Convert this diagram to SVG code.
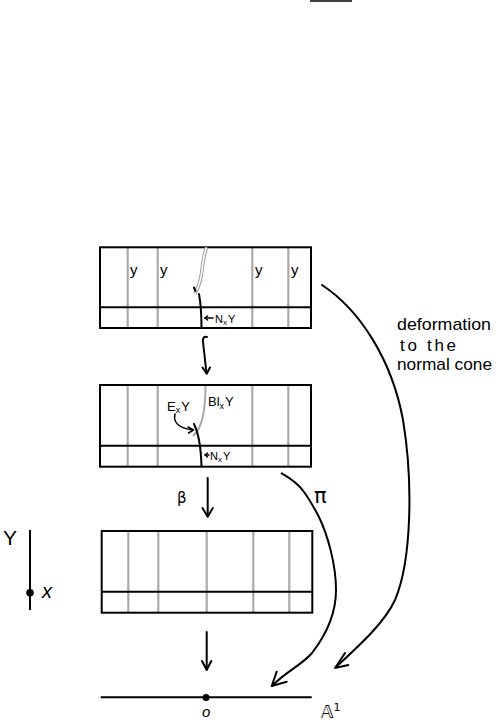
<svg xmlns="http://www.w3.org/2000/svg" width="501" height="728" viewBox="0 0 501 728">
<style>
.box{fill:none;stroke:#000;stroke-width:2}
.gl{stroke:#aaa;stroke-width:2.2;fill:none}
.bk{stroke:#000;stroke-width:2;fill:none;stroke-linecap:round;stroke-linejoin:round}
.thin{stroke:#000;stroke-width:1.5;fill:none;stroke-linecap:round;stroke-linejoin:round}
.t{font-family:"Liberation Sans",Arial,sans-serif;fill:#000}
</style>
<rect width="501" height="728" fill="#fff"/>
<line x1="310" y1="1" x2="352" y2="1" stroke="#000" stroke-width="1.5"/>

<g id="top-box">
  <path class="gl" d="M127.7,247 V328 M157.7,247 V328 M252.3,247 V328 M288.3,247 V328"/>
  <rect class="box" x="100" y="247.3" width="211" height="80.7"/>
  <line class="box" x1="100" y1="307.3" x2="311" y2="307.3"/>
  <path d="M195,294 C198,288 201,280 202,270 C203,260 205,252 206.5,247.5" stroke="#999" stroke-width="3.5" fill="none"/>
  <path d="M195,294 C198,288 201,280 202,270 C203,260 205,252 206.5,247.5" stroke="#fff" stroke-width="1.6" fill="none"/>
  <path class="bk" d="M194,287.5 L195.5,291"/>
  <path class="bk" d="M199,294 C201,305 201.5,318 201.5,328"/>
  <text class="t" x="130" y="275" font-size="15">y</text>
  <text class="t" x="160" y="275" font-size="15">y</text>
  <text class="t" x="255" y="275" font-size="15">y</text>
  <text class="t" x="291" y="275" font-size="15">y</text>
  <text class="t" x="215" y="323" font-size="11">N<tspan font-size="8" dy="2">x</tspan><tspan dy="-2" dx="1">Y</tspan></text>
</g>

<g id="middle-box">
  <path class="gl" d="M127.7,385 V466.7 M157.7,385 V466.7 M252.3,385 V466.7 M288.3,385 V466.7"/>
  <path d="M205.5,386 C205.5,405 203,420 199,428 C197,432 195,434 193,436" stroke="#aaa" stroke-width="2" fill="none"/>
  <rect class="box" x="100" y="385" width="211" height="81.7"/>
  <line class="box" x1="100" y1="445.7" x2="311" y2="445.7"/>
  <path class="bk" d="M194,424 C198,432 201,448 201.5,466.5"/>
  <text class="t" x="167" y="411" font-size="13">E<tspan font-size="9" dy="2">x</tspan><tspan dy="-2" dx="1">Y</tspan></text>
  <text class="t" x="208" y="406" font-size="13">Bl<tspan font-size="9" dy="3">x</tspan><tspan dy="-3" dx="1">Y</tspan></text>
  <text class="t" x="210" y="460" font-size="11">N<tspan font-size="8" dy="2">x</tspan><tspan dy="-2" dx="1">Y</tspan></text>
</g>

<g id="bottom-box">
  <path class="gl" d="M128.3,531 V612.7 M158.3,531 V612.7 M206.7,531 V612.7 M253.3,531 V612.7 M289.3,531 V612.7"/>
  <rect class="box" x="101.7" y="531" width="210.6" height="81.7"/>
  <line class="box" x1="101.7" y1="591.7" x2="312.3" y2="591.7"/>
</g>

<g id="Y-curve">
  <line x1="30" y1="530" x2="30" y2="610" stroke="#000" stroke-width="2"/>
  <circle cx="30" cy="592.7" r="3.8" fill="#000"/>
  <text class="t" x="3" y="545" font-size="21">Y</text>
  <text class="t" x="42" y="598" font-size="20" font-style="italic">x</text>
</g>

<g id="A1-line">
  <line x1="100.7" y1="697.3" x2="311.7" y2="697.3" stroke="#000" stroke-width="2"/>
  <circle cx="206" cy="697.5" r="3.5" fill="#000"/>
  <text class="t" x="202" y="717" font-size="15" font-style="italic">o</text>
  <text x="321" y="718" font-size="17" font-family="'DejaVu Sans',sans-serif">𝔸<tspan font-size="11" dy="-7">1</tspan></text>
</g>

<g id="deformation-label">
  <text class="t" x="397" y="330" font-size="17" textLength="94" lengthAdjust="spacingAndGlyphs">deformation</text>
  <text class="t" x="400" y="351" font-size="17" textLength="56" lengthAdjust="spacing">to the</text>
  <text class="t" x="397" y="370" font-size="17" textLength="95" lengthAdjust="spacingAndGlyphs">normal cone</text>
</g>

<g id="labels">
  <text x="177" y="503" font-size="15" font-family="'DejaVu Sans',sans-serif">β</text>
  <text x="314" y="503" font-size="21" font-family="'DejaVu Sans',sans-serif">π</text>
</g>

<g id="connectors">
  <path class="bk" d="M207,337 C204,336 202.5,338 203,342 L206.5,373"/>
  <path class="bk" d="M202.5,367.5 L206.7,373.7 L210,367.5"/>
  <path class="bk" d="M207.7,478 V516"/>
  <path class="bk" d="M202.5,508 L207.7,516.7 L212.8,508"/>
  <path class="bk" d="M206.7,632 V669"/>
  <path class="bk" d="M202,661 L206.7,670 L211.3,661"/>
  <path class="bk" d="M281.7,473.3 C290,478 300,486 304,492 C310,500 314,508 318,515 C328,535 336,565 336,590 C336,615 326,635 312,653 C302,665 285,672 272,686"/>
  <path class="bk" d="M276.7,671.7 L271.7,686 L286.7,681.7"/>
  <path class="bk" d="M322,285 C360,310 392,360 403,420 C413,480 412,560 395,600 C385,622 360,645 336,667"/>
  <path class="bk" d="M345,653 L335,668 L348.3,665"/>
  <path class="thin" d="M175,414 C173,422 178,428 193,430"/>
  <path class="thin" d="M188,427 L193.5,430 L188.5,433"/>
  <path class="thin" d="M205,318 H213"/>
  <path class="thin" d="M207.5,316 L205,318 L207.5,320"/>
  <path class="thin" d="M205,455 H209"/>
  <path class="thin" d="M207.5,453 L205,455 L207.5,457"/>
</g>
</svg>
